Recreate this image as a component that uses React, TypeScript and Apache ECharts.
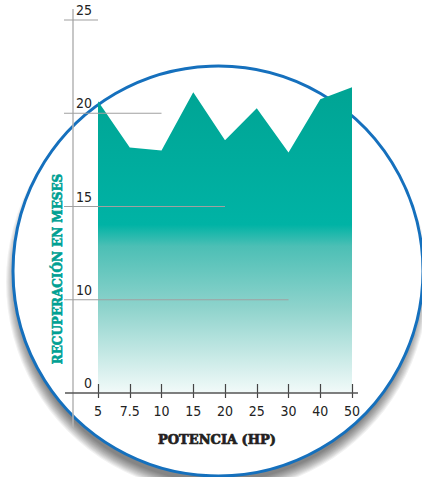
import React, { useEffect, useRef } from "react";
import * as echarts from "echarts";

// Data
const categories = ["5", "7.5", "10", "15", "20", "25", "30", "40", "50"];
const recoveryMonths = [20.65, 18.17, 18.0, 21.13, 18.55, 20.27, 17.9, 20.75, 21.4];
const yTickLabels = [0, 10, 15, 20, 25];
// gridline end positions (in category-index units), for ticks 25, 20, 15, 10
const gridLineTicks = [25, 20, 15, 10];
const gridLineEnds = [-0.16, 1.93, 4.0, 6.1];

const xTitle = "POTENCIA (HP)";
const yTitle = "RECUPERACIÓN EN MESES";

// map a value onto the evenly spaced tick scale used by the chart
function toAxis(v: number): number {
  for (let i = 0; i < yTickLabels.length - 1; i++) {
    const a = yTickLabels[i];
    const b = yTickLabels[i + 1];
    if (v <= b || i === yTickLabels.length - 2) {
      return i + (v - a) / (b - a);
    }
  }
  return 0;
}

const labelFont = '"Liberation Sans Narrow", "DejaVu Sans Condensed", "Roboto", sans-serif';
const titleFont = '"DejaVu Serif", "Liberation Serif", serif';

export default function App() {
  const ref = useRef<HTMLDivElement>(null);
  useEffect(() => {
    if (!ref.current) return;
    const chart = echarts.init(ref.current, null, { renderer: "svg" });
    const tickStyle = { color: "#444", width: 1.2 };
    const option: any = {
      animation: false,
      backgroundColor: "#ffffff",
      grid: { left: 98, right: 70, top: 20, bottom: 84 },
      xAxis: [
        {
          type: "category",
          data: categories,
          boundaryGap: false,
          position: "bottom",
          axisLine: { show: false },
          axisTick: { show: true, inside: true, length: 9, lineStyle: tickStyle },
          axisLabel: { show: false },
          splitLine: { show: false },
          z: 20,
        },
        {
          type: "category",
          data: categories,
          boundaryGap: false,
          position: "bottom",
          offset: 0,
          axisLine: { show: false },
          axisTick: { show: true, length: 5, lineStyle: tickStyle },
          axisLabel: { margin: 11, fontSize: 14, color: "#222", fontFamily: labelFont },
          splitLine: { show: false },
          z: 20,
        },
      ],
      yAxis: {
        type: "value",
        min: 0,
        max: 4,
        interval: 1,
        z: 20,
        axisLine: { show: false },
        axisTick: { show: false },
        splitLine: { show: false },
        axisLabel: {
          formatter: (v: number) => String(yTickLabels[Math.round(v)]),
          margin: 6,
          verticalAlign: "bottom",
          padding: [0, 0, 3, 0],
          fontSize: 14,
          color: "#222",
          fontFamily: labelFont,
        },
      },
      series: [
        {
          type: "line",
          data: recoveryMonths.map(toAxis),
          symbol: "none",
          lineStyle: { width: 0 },
          z: 5,
          areaStyle: {
            opacity: 1,
            color: new echarts.graphic.LinearGradient(0, 0, 0, 1, [
              { offset: 0, color: "#00a494" },
              { offset: 0.45, color: "#00b3a5" },
              { offset: 0.52, color: "#4cbfb5" },
              { offset: 0.72, color: "#8ed3cc" },
              { offset: 1, color: "#f2faf9" },
            ]),
          },
        },
      ],
    };
    chart.setOption(option);

    const p0 = chart.convertToPixel({ xAxisIndex: 0, yAxisIndex: 0 }, [0, 0]) as number[];
    const pEnd = chart.convertToPixel({ xAxisIndex: 0, yAxisIndex: 0 }, [categories.length - 1, 4]) as number[];
    const axisX = p0[0] - 25;
    const baseY = p0[1];
    const cx = 218;
    const cy = 271;
    const r = 205;
    const graphics: any[] = [];
    // soft drop shadow behind the circle: stacked translucent discs
    const shadowSteps = 11;
    for (let k = shadowSteps - 1; k >= 0; k--) {
      graphics.push({
        type: "circle",
        shape: { cx: cx - 1, cy: cy + 11, r: r - 5 + k * 1.1 },
        style: { fill: "rgba(0,0,0,0.055)" },
        z: 0,
        silent: true,
      });
    }
    graphics.push({
      type: "circle",
      shape: { cx, cy, r },
      style: {
        fill: "#ffffff",
        stroke: "#1570bd",
        lineWidth: 3,
      },
      z: 1,
      silent: true,
    });
    // vertical axis line
    graphics.push({
      type: "line",
      shape: { x1: axisX, y1: pEnd[1] - 11, x2: axisX, y2: baseY + 35 },
      style: { stroke: "#b5b5b5", lineWidth: 1.5 },
      z: 50,
    });
    // horizontal axis line
    graphics.push({
      type: "line",
      shape: { x1: axisX - 8, y1: baseY, x2: pEnd[0] + 6, y2: baseY },
      style: { stroke: "#555", lineWidth: 1.5 },
      z: 50,
    });
    gridLineTicks.forEach((t, i) => {
      const idx = yTickLabels.indexOf(t);
      const pe = chart.convertToPixel({ xAxisIndex: 0, yAxisIndex: 0 }, [gridLineEnds[i], idx]) as number[];
      graphics.push({
        type: "line",
        shape: { x1: axisX - 9, y1: pe[1], x2: pe[0], y2: pe[1] },
        style: { stroke: "#a0a0a0", lineWidth: 1.2 },
        z: 50,
      });
    });
    graphics.push({
      type: "text",
      x: 217,
      y: baseY + 46,
      style: {
        text: xTitle,
        align: "center",
        verticalAlign: "middle",
        font: "900 13px " + titleFont,
        fill: "#231f20",
        stroke: "#231f20",
        lineWidth: 0.7,
      },
      z: 50,
    });
    graphics.push({
      type: "text",
      x: 58,
      y: 269,
      rotation: Math.PI / 2,
      style: {
        text: yTitle,
        align: "center",
        verticalAlign: "middle",
        font: "900 12px " + titleFont,
        fill: "#00a093",
        stroke: "#00a093",
        lineWidth: 0.6,
      },
      z: 50,
    });
    chart.setOption({ graphic: graphics });

    return () => chart.dispose();
  }, []);
  return (
    <div
      ref={ref}
      style={{ position: "absolute", left: 0, top: 0, width: 422, height: 477 }}
    />
  );
}
